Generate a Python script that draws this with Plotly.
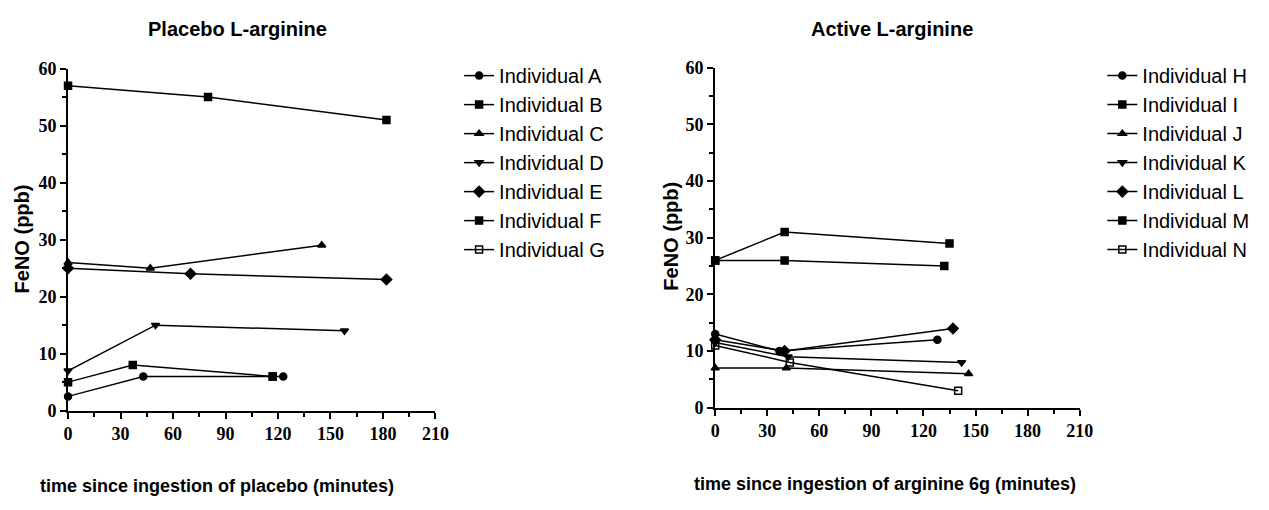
import plotly.graph_objects as go

# ---------------- data ----------------
placebo_names = ["Individual A", "Individual B", "Individual C", "Individual D",
                 "Individual E", "Individual F", "Individual G"]
placebo_time = [
    [0, 43, 123],
    [0, 80, 182],
    [0, 47, 145],
    [0, 50, 158],
    [0, 70, 182],
    [0, 37, 117],
    [117],
]
placebo_feno = [
    [2.5, 6, 6],
    [57, 55, 51],
    [26, 25, 29],
    [7, 15, 14],
    [25, 24, 23],
    [5, 8, 6],
    [6],
]

active_names = ["Individual H", "Individual I", "Individual J", "Individual K",
                "Individual L", "Individual M", "Individual N"]
active_time = [
    [0, 37, 128],
    [0, 40, 132],
    [0, 41, 146],
    [0, 42, 142],
    [0, 40, 137],
    [0, 40, 135],
    [0, 43, 140],
]
active_feno = [
    [13, 10, 12],
    [26, 26, 25],
    [7, 7, 6],
    [11.5, 9, 8],
    [12, 10, 14],
    [26, 31, 29],
    [11, 8, 3],
]

x_ticks = [0, 30, 60, 90, 120, 150, 180, 210]
y_ticks = [0, 10, 20, 30, 40, 50, 60]

symbols = ["circle", "square", "triangle-up", "triangle-down", "diamond", "square", "square-open"]
sizes = [7, 7, 7, 7, 8, 7, 7]

W, H = 1269, 510

fig = go.Figure()

def add_series(names, times, vals, xa, ya, legend):
    for i, (n, t, v) in enumerate(zip(names, times, vals)):
        fig.add_trace(go.Scatter(
            x=t, y=v, name=n, mode="lines+markers",
            xaxis=xa, yaxis=ya, legend=legend, legendgroup=legend + n,
            line=dict(color="black", width=1.5),
            marker=dict(symbol=symbols[i], size=sizes[i], color="black",
                        line=dict(color="black", width=1.5)),
            cliponaxis=False,
        ))

add_series(placebo_names, placebo_time, placebo_feno, "x", "y", "legend")
add_series(active_names, active_time, active_feno, "x2", "y2", "legend2")

tickfont = dict(family="Liberation Serif", size=18, color="black", weight="bold")

def xaxis(dom, anchor):
    return dict(domain=dom, anchor=anchor, range=[0, 210], tickvals=x_ticks,
                showline=True, linecolor="black", linewidth=2, ticks="outside",
                ticklen=6, tickwidth=2, tickcolor="black", showgrid=False,
                zeroline=False, tickfont=tickfont,
                minor=dict(tickvals=[15, 45, 75, 105, 135, 165, 195], ticks="outside",
                           ticklen=4, tickwidth=1.5, tickcolor="black"))

def yaxis(dom, anchor):
    return dict(domain=dom, anchor=anchor, range=[0, 60], tickvals=y_ticks,
                showline=True, linecolor="black", linewidth=2, ticks="outside",
                ticklen=6, tickwidth=2, tickcolor="black", showgrid=False,
                zeroline=False, tickfont=tickfont,
                minor=dict(tickvals=[5, 15, 25, 35, 45, 55], ticks="outside",
                           ticklen=4, tickwidth=1.5, tickcolor="black"))

legfont = dict(family="Liberation Sans", size=20, color="black")

fig.update_layout(
    width=W, height=H,
    margin=dict(l=0, r=0, t=0, b=0),
    paper_bgcolor="white", plot_bgcolor="white",
    xaxis=xaxis([64 / W, 437 / W], "y"),
    yaxis=yaxis([1 - 417 / H, 1 - 61 / H], "x"),
    xaxis2=xaxis([721 / W, 1091 / W], "y2"),
    yaxis2=yaxis([1 - 414 / H, 1 - 60 / H], "x2"),
    legend=dict(x=461 / W, y=1 - 48 / H, xanchor="left", yanchor="top",
                font=legfont, tracegroupgap=0, bgcolor="rgba(0,0,0,0)"),
    legend2=dict(x=1114 / W, y=1 - 48 / H, xanchor="left", yanchor="top",
                 font=legfont, tracegroupgap=0, bgcolor="rgba(0,0,0,0)"),
    showlegend=True,
)

titlefont = dict(family="Liberation Sans", size=20, color="black")
axtitlefont = dict(family="Liberation Sans", size=18, color="black")
ytitlefont = dict(family="Liberation Sans", size=20, color="black")
ann = [
    dict(text="<b>Placebo L-arginine</b>", x=236 / W, y=1 - 20 / H, font=titlefont),
    dict(text="<b>Active L-arginine</b>", x=900 / W, y=1 - 20 / H, font=titlefont),
    dict(text="<b>time since ingestion of placebo (minutes)</b>", x=215 / W, y=1 - 495 / H, font=axtitlefont),
    dict(text="<b>time since ingestion of arginine 6g (minutes)</b>", x=893 / W, y=1 - 493 / H, font=axtitlefont),
    dict(text="<b>FeNO (ppb)</b>", x=17 / W, y=1 - 238 / H, font=ytitlefont, textangle=-90),
    dict(text="<b>FeNO (ppb)</b>", x=676 / W, y=1 - 235 / H, font=ytitlefont, textangle=-90),
]
for a in ann:
    a.update(xref="paper", yref="paper", showarrow=False, xanchor="center", yanchor="middle")
fig.update_layout(annotations=ann)

fig.write_html("out.html")
